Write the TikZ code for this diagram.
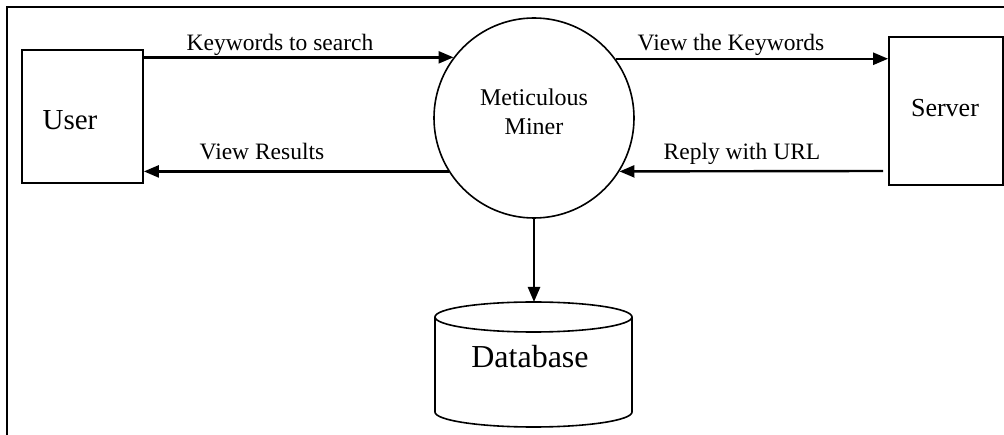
\documentclass[tikz,border=0pt]{standalone}
\usepackage{fontspec}
\setmainfont{Liberation Serif}
\usetikzlibrary{arrows.meta}
\tikzset{
  box/.style={draw, line width=1.8pt, inner sep=0pt},
  proc/.style={draw, circle, line width=1.6pt, minimum size=200pt, inner sep=0pt},
  arr/.style={line width=2.4pt, -{Triangle[length=15pt,width=12pt]}},
  lbl/.style={inner sep=0pt, anchor=base, font=\fontsize{23.5}{26}\selectfont},
}
\begin{document}
\begin{tikzpicture}[x=1pt,y=-1pt]
\useasboundingbox (0,0) rectangle (1004,435);
% frame
\draw[line width=2pt] (1004,7) -- (7,7) -- (7,435);
% nodes
\node[box, minimum width=121pt, minimum height=133pt] (user) at (82.5,116.5) {};
\node[inner sep=0pt, anchor=base, font=\fontsize{29}{32}\selectfont] (usert) at (70,130) {User};
\node[box, minimum width=114pt, minimum height=148pt] (server) at (946,111) {};
\node[inner sep=0pt, anchor=base, font=\fontsize{26}{29}\selectfont] (servert) at (945,117) {Server};
\node[proc] (mm) at (534,118) {};
\node[inner sep=0pt, align=center, font=\fontsize{24}{29}\selectfont] (mmt) at (534,112) {Meticulous\\Miner};
% database cylinder
\draw[line width=1.6pt] (435,317) -- (435,412) arc[start angle=180, end angle=360, x radius=98.5, y radius=-15] -- (632,317);
\draw[line width=1.6pt] (533.5,317) ellipse[x radius=98.5, y radius=15];
\coordinate (dbtop) at (533.5,302);
\node[inner sep=0pt, anchor=base, font=\fontsize{32}{36}\selectfont] (db) at (530,368) {Database};
% connectors
\coordinate (rs) at (883,171);
\draw[arr] (user.east |- mm.143.13) -- (mm.143.13);
\draw[arr] (mm.36.87) -- (server.west |- mm.36.87);
\draw[arr] (mm.212) -- (user.east |- mm.212);
\draw[arr] (rs) -- (mm.-32);
\draw[arr] (mm.south) -- (mm.south |- dbtop);
% labels
\node[lbl] (l1) at (280,51) {Keywords to search};
\node[lbl] (l2) at (731,51) {View the Keywords};
\node[lbl] (l3) at (262,160) {View Results};
\node[lbl] (l4) at (742,160) {Reply with URL};
\end{tikzpicture}
\end{document}
